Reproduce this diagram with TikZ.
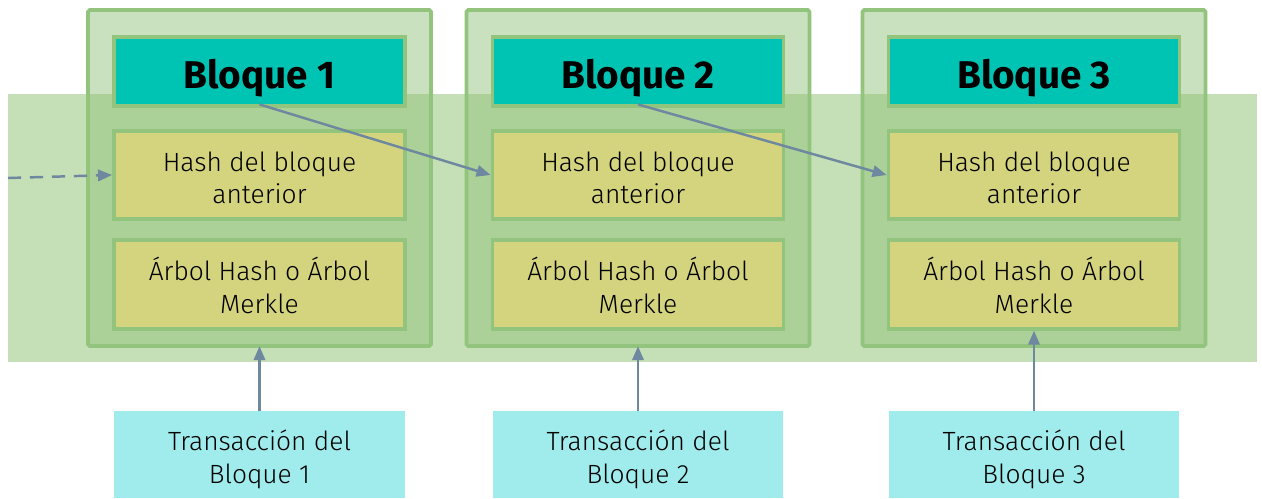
\documentclass[tikz,border=0pt]{standalone}
\usepackage{fontspec}
\setmainfont{Fira Sans Light}[BoldFont={Fira Sans Bold}]
\usetikzlibrary{arrows.meta}
\definecolor{bandgreen}{HTML}{C5DFB7}
\definecolor{framegreen}{HTML}{93C47D}
\definecolor{titleteal}{HTML}{00C4B3}
\definecolor{fieldkhaki}{HTML}{D4D47F}
\definecolor{txcyan}{HTML}{A0ECEC}
\definecolor{linkblue}{HTML}{6E88A0}
\begin{document}
\begin{tikzpicture}[x=0.02cm, y=-0.02cm,
	blockframe/.style={draw=framegreen, line width=2.2pt, fill=framegreen, fill opacity=0.5, rounded corners=1pt, minimum width=6.86cm, minimum height=6.72cm, inner sep=0pt},
	titlebox/.style={draw=framegreen, line width=2.2pt, fill=titleteal, minimum width=5.82cm, minimum height=1.38cm, inner sep=0pt, text height=19pt, text depth=0pt, font=\fontsize{22}{26}\selectfont\bfseries},
	fieldbox/.style={draw=framegreen, line width=2.2pt, fill=fieldkhaki, minimum width=5.82cm, minimum height=1.77cm, inner sep=0pt, align=center, text height=33pt, text depth=0pt, font=\fontsize{15}{18.7}\selectfont},
	txbox/.style={fill=txcyan, minimum width=5.82cm, minimum height=1.74cm, inner sep=0pt, align=center, text height=33pt, text depth=0pt, font=\fontsize{15}{18.7}\selectfont},
	link/.style={draw=linkblue, line width=1.4pt, -{Triangle[length=8pt,width=6.5pt]}}]
	\useasboundingbox (0,0) rectangle (1262,498);

	% Chain band
	\fill[bandgreen] (8,94) rectangle (1257,362);

	% Bloque 1
	\node[blockframe] (frame1) at (259.5,178) {};
	\node[titlebox] (title1) at (259.5,71.5) {Bloque 1};
	\node[fieldbox] (prev1) at (259.5,175) {Hash del bloque\\anterior};
	\node[fieldbox] (tree1) at (259.5,284.5) {Árbol Hash o Árbol\\Merkle};
	\node[txbox] (tx1) at (259.5,454.5) {Transacción del\\Bloque 1};

	% Bloque 2
	\node[blockframe] (frame2) at (638,178) {};
	\node[titlebox] (title2) at (638,71.5) {Bloque 2};
	\node[fieldbox] (prev2) at (638,175) {Hash del bloque\\anterior};
	\node[fieldbox] (tree2) at (638,284.5) {Árbol Hash o Árbol\\Merkle};
	\node[txbox] (tx2) at (638,454.5) {Transacción del\\Bloque 2};

	% Bloque 3
	\node[blockframe] (frame3) at (1034,178) {};
	\node[titlebox] (title3) at (1034,71.5) {Bloque 3};
	\node[fieldbox] (prev3) at (1034,175) {Hash del bloque\\anterior};
	\node[fieldbox] (tree3) at (1034,284.5) {Árbol Hash o Árbol\\Merkle};
	\node[txbox] (tx3) at (1034,454.5) {Transacción del\\Bloque 3};

	% Connections
	\coordinate (before) at (8,178);
	\draw[link, dashed, dash pattern=on 7.5pt off 5pt] (before) -- (prev1.west);
	\draw[link] ([yshift=2pt]title1.south) -- (prev2.west);
	\draw[link] ([yshift=2pt]title2.south) -- (prev3.west);
	\draw[link] (tx1.north) -- ([yshift=1pt]frame1.south);
	\draw[link] (tx2.north) -- ([yshift=1pt]frame2.south);
	\draw[link] (tx3.north) -- (tree3.south);
\end{tikzpicture}
\end{document}
